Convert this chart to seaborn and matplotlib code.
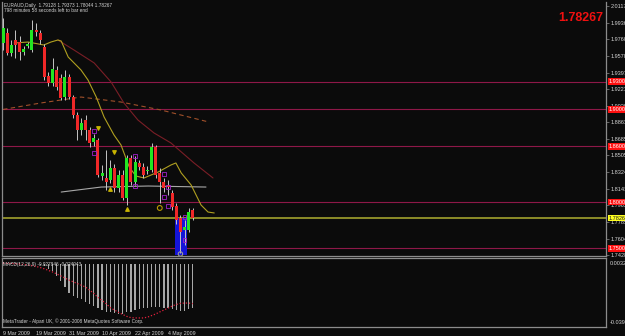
import numpy as np
import pandas as pd
import matplotlib
matplotlib.use("Agg")
import matplotlib.pyplot as plt
import matplotlib.transforms as mtransforms
from matplotlib.patches import Rectangle
import seaborn as sns

# ---------------- data ----------------
symbol_text = "EURAUD,Daily  1.79128 1.79373 1.78044 1.78267"
timer_text = "798 minutes 58 seconds left to bar end"
macd_text = "MACD(12,26,9) -0.027846 -0.024943"
copyright_text = "MetaTrader - Alpari UK, \u00a9 2001-2008 MetaQuotes Software Corp."
last_price = 1.78267

tick_bars = [0, 8, 16, 24, 32, 40]
date_labels = ["9 Mar 2009", "19 Mar 2009", "31 Mar 2009", "10 Apr 2009", "22 Apr 2009", "4 May 2009"]

opens = [1.9718, 1.9826, 1.9610, 1.9750, 1.9728, 1.9620, 1.9685, 1.9642, 1.9858, 1.9826,
         1.9674, 1.9361, 1.9286, 1.9426, 1.9340, 1.9134, 1.9350, 1.9134, 1.8940, 1.8778,
         1.8886, 1.8778, 1.8648, 1.8670, 1.8281, 1.8260, 1.8238, 1.8368, 1.8152, 1.8292,
         1.8044, 1.8476, 1.8216, 1.8422, 1.8378, 1.8335, 1.8346, 1.8594, 1.8314, 1.8216,
         1.8184, 1.8098, 1.7957, 1.7828, 1.7698, 1.7698, 1.79128]
closes = [1.9880, 1.9610, 1.9696, 1.9696, 1.9620, 1.9653, 1.9707, 1.9858, 1.9837, 1.9750,
          1.9350, 1.9286, 1.9437, 1.9242, 1.9124, 1.9350, 1.9134, 1.8940, 1.8778, 1.8854,
          1.8778, 1.8638, 1.8692, 1.8292, 1.8314, 1.8216, 1.8368, 1.8152, 1.8292, 1.8044,
          1.8476, 1.8216, 1.8432, 1.8378, 1.8292, 1.8346, 1.8594, 1.8292, 1.8216, 1.8152,
          1.8162, 1.7946, 1.7806, 1.7676, 1.7730, 1.7892, 1.78267]
highs = [1.9988, 1.9880, 1.9750, 1.9858, 1.9793, 1.9685, 1.9728, 1.9966, 1.9934, 1.9858,
         1.9707, 1.9404, 1.9556, 1.9469, 1.9383, 1.9426, 1.9383, 1.9156, 1.8972, 1.8908,
         1.8940, 1.8810, 1.8735, 1.8692, 1.8400, 1.8562, 1.8454, 1.8411, 1.8346, 1.8346,
         1.8508, 1.8508, 1.8497, 1.8454, 1.8422, 1.8389, 1.8638, 1.8616, 1.8368, 1.8260,
         1.8238, 1.8130, 1.7990, 1.7860, 1.7806, 1.7936, 1.79373]
lows = [1.9642, 1.9588, 1.9577, 1.9556, 1.9534, 1.9588, 1.9664, 1.9620, 1.9793, 1.9707,
        1.9318, 1.9253, 1.9253, 1.9210, 1.9102, 1.9102, 1.9113, 1.8908, 1.8670, 1.8724,
        1.8670, 1.8594, 1.8605, 1.8270, 1.8238, 1.8130, 1.8206, 1.8108, 1.8108, 1.8022,
        1.7968, 1.8184, 1.8184, 1.8346, 1.8260, 1.8303, 1.8324, 1.8260, 1.7990, 1.8108,
        1.8076, 1.7914, 1.7763, 1.7450, 1.7536, 1.7676, 1.78044]

# moving averages (bar position, price) (shifted forward)
ma_fast_bar = [2.7, 6.1, 9.9, 11.6, 13.3, 14.1, 15.8, 17.0, 18.9, 20.6, 22.6, 24.5, 26.9,
               28.6, 30.6, 32.2, 34.2, 37.6, 40.7, 41.9, 43.2, 45.6, 48.0, 49.7, 51.2]
ma_fast_val = [1.9718, 1.9728, 1.9696, 1.9728, 1.9750, 1.9739, 1.9566, 1.9512, 1.9426, 1.9318,
               1.9134, 1.8918, 1.8724, 1.8616, 1.8378, 1.8281, 1.8260, 1.8324, 1.8400, 1.8422,
               1.8314, 1.8184, 1.7968, 1.7892, 1.7882]
ma_mid_bar = [13.3, 17.2, 22.1, 26.2, 29.3, 32.7, 36.6, 40.7, 46.3, 50.9]
ma_mid_val = [1.9750, 1.9642, 1.9502, 1.9296, 1.9070, 1.8886, 1.8746, 1.8638, 1.8422, 1.8260]
ma_slow_bar = [0.0, 9.2, 18.9, 28.6, 38.3, 49.9]
ma_slow_val = [1.9000, 1.9070, 1.9134, 1.9080, 1.8994, 1.8864]
ma_long_bar = [14.1, 23.8, 35.2, 49.2]
ma_long_val = [1.8108, 1.8162, 1.8173, 1.8162]

level_lines = [1.9300, 1.9000, 1.8600, 1.8000, 1.7500]
level_labels = ["1.93000", "1.90000", "1.86000", "1.80000", "1.75000"]

price_ticks = [2.01175, 1.99360, 1.97600, 1.95780, 1.93970, 1.92210, 1.90395, 1.88630,
               1.86850, 1.85050, 1.83245, 1.81430, 1.79630, 1.77855, 1.76040, 1.74280]

box_bars = [41.6, 44.6]
box_prices = [1.7428, 1.7828]

sq_bars = [22, 22, 32, 32, 39, 40, 39, 40, 44, 44]
sq_vals = [1.8767, 1.8530, 1.8497, 1.8173, 1.8303, 1.8162, 1.8055, 1.7957, 1.7838, 1.7590]
dn_bars = [23, 27]
dn_vals = [1.8800, 1.8540]
up_bars = [26, 30]
up_vals = [1.8141, 1.7925]
ring_bars = [38]
ring_vals = [1.7936]
gray_ring_bars = [43]
gray_ring_vals = [1.7439]

macd_hist = [0.0010, 0.0008, 0.0006, 0.0005, 0.0004, 0.0003, 0.0002, 0.0002, 0.0001, -0.0006,
             -0.0015, -0.0030, -0.0045, -0.0075, -0.0110, -0.0145, -0.0180, -0.0200, -0.0215, -0.0222,
             -0.0240, -0.0255, -0.0265, -0.0275, -0.0290, -0.0300, -0.0305, -0.0310, -0.0312, -0.0315,
             -0.0305, -0.0300, -0.0290, -0.0285, -0.0280, -0.0278, -0.0270, -0.0268, -0.0272, -0.0276,
             -0.0280, -0.0285, -0.0290, -0.0298, -0.0293, -0.0285, -0.02785]
macd_signal = [0.0006, 0.0005, 0.0004, 0.0002, 0.0000, -0.0003, -0.0006, -0.0010, -0.0015, -0.0022,
               -0.0030, -0.0040, -0.0050, -0.0062, -0.0075, -0.0088, -0.0101, -0.0112, -0.0123, -0.0134,
               -0.0145, -0.0165, -0.0185, -0.0210, -0.0230, -0.0250, -0.0275, -0.0290, -0.0305, -0.0318,
               -0.0330, -0.0338, -0.0340, -0.0340, -0.0340, -0.0335, -0.0325, -0.0315, -0.0302, -0.0290,
               -0.0278, -0.0265, -0.0255, -0.0248, -0.0246, -0.0246, -0.02494]
macd_top_label = "0.00323"
macd_bottom_label = "-0.0390"

# ---------------- style ----------------
BG = "#0b0b0b"
sns.set_style("dark", {"axes.facecolor": BG, "figure.facecolor": BG})
plt.rcParams["font.family"] = ["Liberation Sans", "DejaVu Sans"]
TXT = "#d4d4d4"
FRAME = "#8c8c8c"
SMALL = 3.4

W, H = 625, 336
fig = plt.figure(figsize=(W / 100, H / 100), dpi=100, facecolor=BG)
ax = fig.add_axes([2 / W, 1 - 256 / H, 604 / W, 254 / H])
ax2 = fig.add_axes([2 / W, 1 - 327 / H, 604 / W, 69 / H])

px_per_bar = 4.125
x0 = -0.25
x1 = x0 + 604 / px_per_bar
n = len(opens)
bars = np.arange(n)

df = pd.DataFrame({"bar": bars, "open": opens, "high": highs, "low": lows, "close": closes})
df["up"] = df["close"] >= df["open"]

for a in (ax, ax2):
    a.set_facecolor(BG)
    a.grid(False)
    a.set_xlim(x0, x1)
    for s in a.spines.values():
        s.set_color(FRAME)
        s.set_linewidth(0.9)

ax.set_ylim(1.74172, 2.01604)
ax.spines["top"].set_visible(False)

# level lines
for lv in level_lines:
    ax.axhline(lv, color="#8e1848", lw=0.8, zorder=1)
ax.axhline(last_price, color="#8c8c28", lw=1.4, zorder=1)

# blue box
ax.add_patch(Rectangle((box_bars[0], box_prices[0]), box_bars[1] - box_bars[0],
                       box_prices[1] - box_prices[0], facecolor="#1414d8", edgecolor="none", zorder=1.5))

# moving averages
sns.lineplot(x=ma_slow_bar, y=ma_slow_val, ax=ax, color="#a0502a", lw=0.8, linestyle=(0, (4, 3)), zorder=2)
sns.lineplot(x=ma_long_bar, y=ma_long_val, ax=ax, color="#a8a8a8", lw=0.8, zorder=2)
sns.lineplot(x=ma_mid_bar, y=ma_mid_val, ax=ax, color="#7a1e26", lw=0.8, zorder=2)
sns.lineplot(x=ma_fast_bar, y=ma_fast_val, ax=ax, color="#b0a020", lw=0.8, zorder=2)

# candles
ax.vlines(df["bar"], df["low"], df["high"], color="#c4c4c4", lw=0.7, zorder=3)
body_lo = np.minimum(df["open"], df["close"])
body_h = np.maximum(np.abs(df["close"] - df["open"]), 0.0009)
colors = np.where(df["up"], "#22e622", "#f02828")
ax.bar(df["bar"], body_h, bottom=body_lo, width=0.72, color=colors, edgecolor="none", zorder=4)

# markers
ax.scatter(sq_bars, sq_vals, marker="s", s=7, facecolors="none", edgecolors="#a020c8", linewidths=0.6, zorder=5)
ax.scatter(dn_bars, dn_vals, marker="v", s=6, color="#c8b400", zorder=5)
ax.scatter(up_bars, up_vals, marker="^", s=6, color="#c8b400", zorder=5)
ax.scatter(ring_bars, ring_vals, marker="o", s=12, facecolors="none", edgecolors="#b89a00", linewidths=0.8, zorder=5)
ax.scatter(gray_ring_bars, gray_ring_vals, marker="o", s=10, facecolors="none", edgecolors="#9a9a9a", linewidths=0.8, zorder=5)

# right price axis
ax.yaxis.tick_right()
ax.set_yticks(price_ticks)
ax.set_yticklabels([f"{v:.5f}" for v in price_ticks])
ax.tick_params(axis="y", colors=FRAME, labelcolor=TXT, labelsize=4.0, length=2, width=0.5, pad=1.5)
ax.tick_params(axis="x", bottom=False, labelbottom=False)
ax.set_xlabel("")
ax.set_ylabel("")

trans = mtransforms.blended_transform_factory(ax.transAxes, ax.transData)
for lv, lab in zip(level_lines, level_labels):
    ax.text(1.004, lv, lab, transform=trans, fontsize=4.0, color="white", va="center", ha="left",
            bbox=dict(facecolor="#ff1010", edgecolor="none", pad=0.6), zorder=6, clip_on=False)
ax.text(1.004, last_price, f"{last_price:.5f}", transform=trans, fontsize=4.0, color="#202020",
        va="center", ha="left", bbox=dict(facecolor="#ffff20", edgecolor="none", pad=0.6), zorder=6, clip_on=False)

# texts
fig.text(4 / W, 1 - 5 / H, symbol_text, fontsize=SMALL, color=TXT, va="center", ha="left")
fig.text(4 / W, 1 - 11 / H, timer_text, fontsize=SMALL, color=TXT, va="center", ha="left")
fig.text(603 / W, 1 - 18 / H, f"{last_price:.5f}", fontsize=9, color="#f01010", fontweight="bold",
         va="center", ha="right")

# MACD panel
ax2.set_ylim(-0.0397, 0.0038)
ax2.bar(bars, macd_hist, width=0.3, color="#a8a8a8", edgecolor="none", zorder=2)
sns.lineplot(x=bars, y=macd_signal, ax=ax2, color="#e0203c", lw=0.9, linestyle=(0, (1, 1.5)), zorder=3)
ax2.set_yticks([])
ax2.set_ylabel("")
ax2.set_xticks(tick_bars)
ax2.set_xticklabels(date_labels, ha="left")
ax2.tick_params(axis="x", colors=FRAME, labelcolor=TXT, labelsize=3.8, length=2, width=0.5, pad=1)
ax2.set_xlabel("")
ax2.text(0.002, 0.9, macd_text, transform=ax2.transAxes, fontsize=SMALL, color=TXT, va="center", ha="left")
ax2.text(0.002, 0.09, copyright_text, transform=ax2.transAxes, fontsize=SMALL, color=TXT, va="center", ha="left")
ax2.text(1.006, 0.92, macd_top_label, transform=ax2.transAxes, fontsize=4.0, color=TXT, va="center", ha="left")
ax2.text(1.006, 0.06, macd_bottom_label, transform=ax2.transAxes, fontsize=4.0, color=TXT, va="center", ha="left")

fig.savefig("out.png", dpi=100, facecolor=BG)
